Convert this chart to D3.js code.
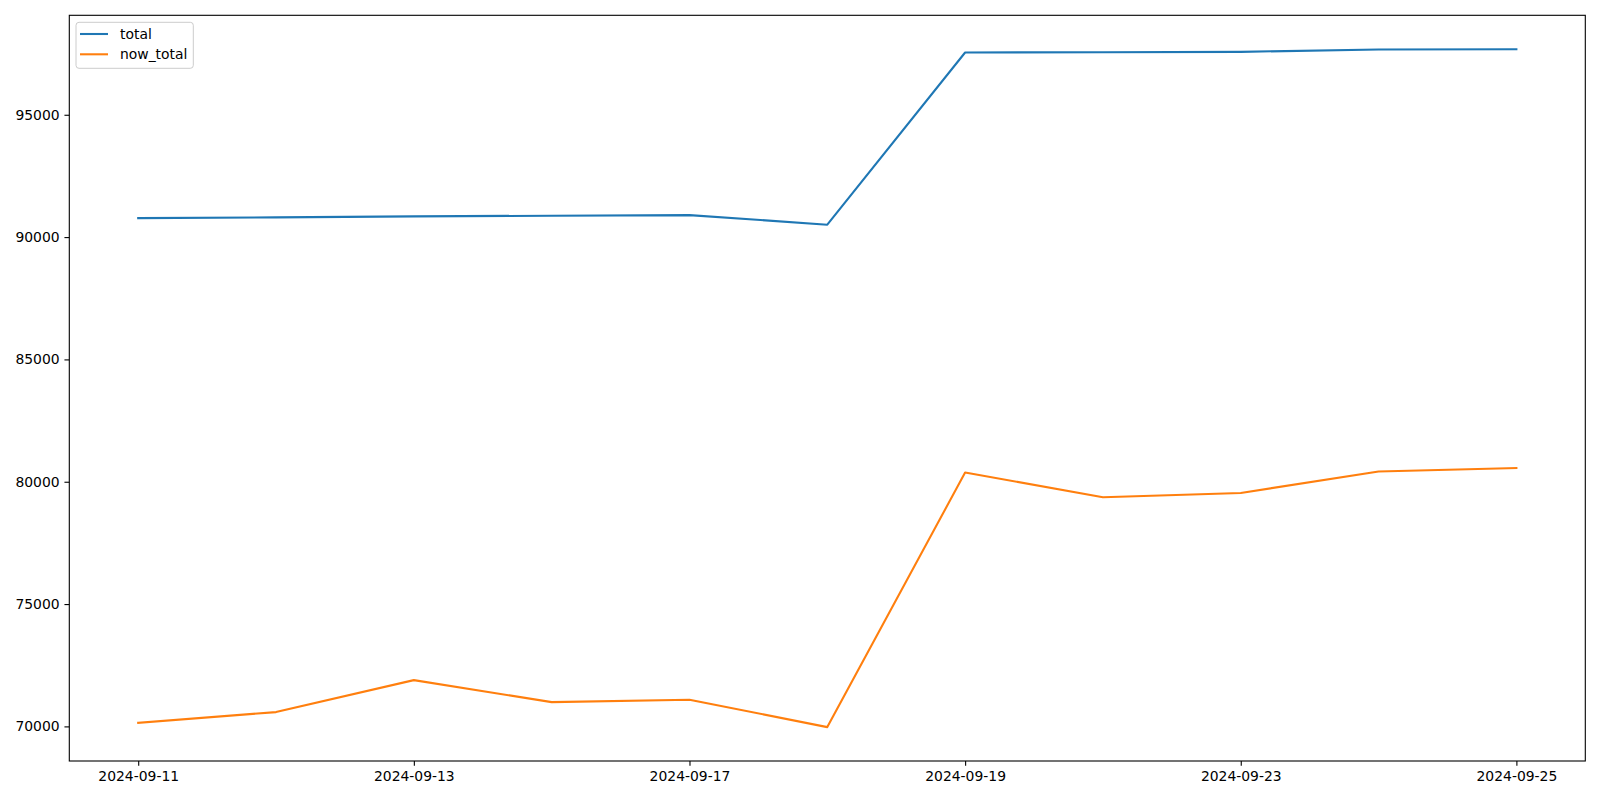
<!DOCTYPE html>
<html>
<head>
<meta charset="utf-8">
<script src="https://cdn.jsdelivr.net/npm/d3@7"></script>
<style>
  html, body { margin: 0; padding: 0; background: #fff; }
  svg { display: block; font-family: "DejaVu Sans", sans-serif; }
</style>
</head>
<body>
<svg id="chart" width="1600" height="800"></svg>
<script>
const dates = ["2024-09-11","2024-09-12","2024-09-13","2024-09-16","2024-09-17","2024-09-18","2024-09-19","2024-09-20","2024-09-23","2024-09-24","2024-09-25"];
const total = [90776, 90805, 90846, 90874, 90899, 90507, 97545, 97558, 97572, 97667, 97680];
const nowTotal = [70147, 70584, 71891, 70993, 71087, 69971, 80376, 79367, 79543, 80417, 80564];
const yTicks = [70000, 75000, 80000, 85000, 90000, 95000];
const xTickLabels = ["2024-09-11","2024-09-13","2024-09-17","2024-09-19","2024-09-23","2024-09-25"];
const seriesNames = ["total", "now_total"];
const colors = ["#1f77b4", "#ff7f0e"];

const svg = d3.select("#chart");
const L = 69.3, R = 1585.3, T = 15.3, B = 761;

const allVals = total.concat(nowTotal);
const mn = d3.min(allVals), mx = d3.max(allVals), pad = (mx - mn) * 0.05;

const x = d3.scalePoint().domain(dates).range([L, R]).padding(0.5);
const y = d3.scaleLinear().domain([mn - pad, mx + pad]).range([B, T]);

// axes
const xAxis = d3.axisBottom(x).tickValues(xTickLabels).tickSize(4.86).tickPadding(4.86);
const yAxis = d3.axisLeft(y).tickValues(yTicks).tickSize(4.86).tickPadding(4.86).tickFormat(d3.format("d"));

const gx = svg.append("g").attr("transform", `translate(0,${B})`).call(xAxis);
const gy = svg.append("g").attr("transform", `translate(${L},0)`).call(yAxis);
[gx, gy].forEach(g => {
  g.select(".domain").remove();
  g.selectAll(".tick line").attr("stroke", "#000").attr("stroke-width", 1.1);
  g.selectAll(".tick text").attr("fill", "#000").style("font-size", "13.9px").style("font-family", "'DejaVu Sans', sans-serif");
});

// lines
const series = [total, nowTotal];
const line = d3.line().x((d, i) => x(dates[i])).y(d => y(d));
series.forEach((s, k) => {
  svg.append("path").datum(s)
    .attr("fill", "none")
    .attr("stroke", colors[k])
    .attr("stroke-width", 2.08)
    .attr("stroke-linejoin", "round")
    .attr("stroke-linecap", "square")
    .attr("d", line);
});

// frame
svg.append("rect").attr("x", L).attr("y", T).attr("width", R - L).attr("height", B - T)
  .attr("fill", "none").attr("stroke", "#000").attr("stroke-width", 1.1);

// legend
const lg = svg.append("g");
lg.append("rect").attr("x", 76).attr("y", 22.3).attr("width", 117.3).attr("height", 46)
  .attr("rx", 3).attr("ry", 3)
  .attr("fill", "#fff").attr("fill-opacity", 0.8)
  .attr("stroke", "#cccccc").attr("stroke-width", 1);
seriesNames.forEach((name, k) => {
  const yy = 34 + k * 20.3;
  lg.append("line").attr("x1", 80).attr("x2", 108).attr("y1", yy).attr("y2", yy)
    .attr("stroke", colors[k]).attr("stroke-width", 2.08);
  lg.append("text").attr("x", 120).attr("y", yy).attr("dy", "0.35em")
    .style("font-size", "13.9px").attr("fill", "#000").text(name);
});
</script>
</body>
</html>
